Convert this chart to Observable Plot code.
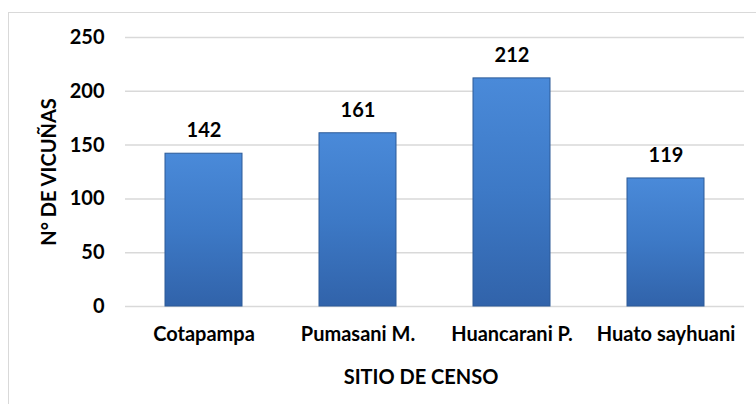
<!DOCTYPE html>
<html>
<head>
<meta charset="utf-8">
<script src="https://cdn.jsdelivr.net/npm/d3@7"></script>
<script src="https://cdn.jsdelivr.net/npm/@observablehq/plot@0.6"></script>
<style>
  html, body { margin: 0; padding: 0; background: #fff; overflow: hidden; }
  #wrap { position: relative; width: 756px; height: 404px; overflow: hidden; }
  #frame { position: absolute; left: 8px; top: 12px; width: 800px; height: 500px; border: 1px solid #d9d9d9; box-sizing: border-box; }
  #chart { position: absolute; left: 0; top: 0; }
  svg text { font-family: Lato, "Open Sans", sans-serif; font-weight: bold; fill: #000; }
</style>
</head>
<body>
<div id="wrap">
  <div id="frame"></div>
  <div id="chart"></div>
</div>
<script>
const sites = ["Cotapampa", "Pumasani M.", "Huancarani P.", "Huato sayhuani"];
const counts = [142, 161, 212, 119];
const yTicks = [0, 50, 100, 150, 200, 250];

const data = sites.map((s, i) => ({site: s, value: counts[i]}));

const chart = Plot.plot({
  width: 756,
  height: 404,
  marginLeft: 125,
  marginRight: 12,
  marginTop: 37,
  marginBottom: 98,
  style: {background: "transparent", fontFamily: "Lato, sans-serif", fontSize: "20px", fontWeight: "bold", color: "#000"},
  x: {domain: sites, paddingInner: 0.5, paddingOuter: 0.25, label: null},
  y: {domain: [0, 250], ticks: yTicks, label: null},
  marks: [
    Plot.gridY(yTicks, {stroke: "#d9d9d9", strokeOpacity: 1, strokeWidth: 1.5}),
    Plot.axisY(yTicks, {tickSize: 0, tickPadding: 21, fontSize: 20, fontWeight: "bold", label: null}),
    Plot.axisX({tickSize: 0, tickPadding: 20, fontSize: 20, fontWeight: "bold", label: null}),
    Plot.barY(data, {x: "site", y: "value", fill: "url(#barGrad)", stroke: "#2d5b98", strokeWidth: 1}),
    Plot.text(data, {x: "site", y: "value", text: d => String(d.value), dy: -23, fontSize: 20, fontWeight: "bold"}),
    Plot.text(["SITIO DE CENSO"], {frameAnchor: "bottom", textAnchor: "middle", dy: 77, dx: -14, fontSize: 20, fontWeight: "bold"}),
    Plot.text(["N° DE VICUÑAS"], {frameAnchor: "left", textAnchor: "middle", dx: -76, rotate: -90, fontSize: 20, fontWeight: "bold"})
  ]
});

const ns = "http://www.w3.org/2000/svg";
const defs = document.createElementNS(ns, "defs");
defs.innerHTML = `<linearGradient id="barGrad" x1="0" y1="0" x2="0" y2="1">
  <stop offset="0" stop-color="#4a8ad9"/>
  <stop offset="0.5" stop-color="#3d79c6"/>
  <stop offset="1" stop-color="#3163aa"/>
</linearGradient>`;
chart.insertBefore(defs, chart.firstChild);
document.getElementById("chart").appendChild(chart);
</script>
</body>
</html>
